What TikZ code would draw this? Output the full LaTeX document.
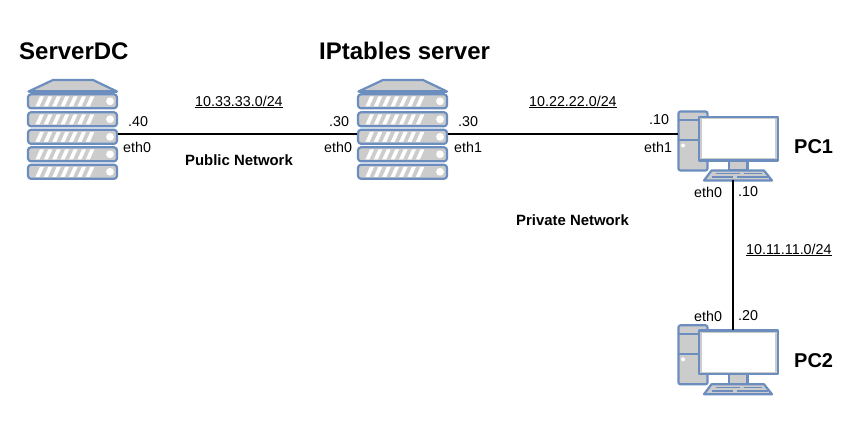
\documentclass[tikz,border=0pt]{standalone}
\usepackage{fontspec}
\setmainfont{Liberation Sans}
\definecolor{devblue}{HTML}{6C8EBF}
\definecolor{devgray}{HTML}{CCCCCC}
\tikzset{
  x=1pt,y=-1pt,
  devpart/.style={draw=devblue,fill=devgray,line width=2.2pt,line join=round},
  link/.style={draw=black,line width=2pt},
  title/.style={font=\fontsize{24}{26}\selectfont\bfseries,inner sep=0pt},
  pcname/.style={font=\fontsize{20}{22}\selectfont\bfseries,inner sep=0pt},
  netname/.style={font=\fontsize{14.9}{16}\selectfont\bfseries,inner sep=0pt},
  lbl/.style={font=\fontsize{14.3}{16}\selectfont,inner sep=0pt},
  subnet/.style={font=\fontsize{14.3}{16}\selectfont,inner sep=0pt},
  server/.pic={
    \draw[devpart] (1.5,12.5) -- (26,1) -- (66,1) -- (90,12.5) -- cycle;
    \foreach \t in {15.3,33.3,50.8,68.3,85.8}{
      \draw[devpart,rounded corners=3pt] (1,\t) rectangle (90,\t+14);
      \foreach \s in {0,...,6}{
        \fill[white] (8.5+\s*8.4,\t+12) -- (12.5+\s*8.4,\t+12) -- (17+\s*8.4,\t+2) -- (13+\s*8.4,\t+2) -- cycle;
      }
      \fill[white] (83,\t+7) circle (3.9);
    }
    \draw[devblue,line width=2.5pt] (1.5,12.5) -- (90,12.5);
    \coordinate (-port) at (45.5,54.7);
    \node[minimum width=91pt,minimum height=100pt,inner sep=0pt] (-box) at (45.5,50) {};
  },
  pc/.pic={
    \draw[devpart,rounded corners=2pt] (1,1) rectangle (30,60);
    \draw[devblue,line width=2pt] (1,10) -- (30,10) (1,30) -- (30,30);
    \fill[white] (5.5,35) circle (2);
    \draw[devpart] (51.5,50) rectangle (70,60);
    \draw[devpart] (34,60) -- (86.5,60) -- (94.5,70) -- (26.5,70) -- cycle;
    \draw[devblue,line width=1.4pt] (38,63) -- (62,63) (66,63) -- (84,63) (34,66.7) -- (55,66.7) (59,66.7) -- (90,66.7);
    \draw[devpart] (21.2,6.2) rectangle (100.5,50);
    \fill[white] (24,8.7) rectangle (97.7,47.2);
    \coordinate (-west) at (0,23.2);
    \coordinate (-south) at (55.5,70);
    \coordinate (-north) at (55.5,6);
    \node[minimum width=101pt,minimum height=70pt,inner sep=0pt] (-box) at (48,35) {};
  }
}
\begin{document}
\begin{tikzpicture}
\useasboundingbox (0,0) rectangle (861,430);
\fill[white] (0,0) rectangle (861,430);
\path pic (pca) at (677.5,110.5) {pc};
\path pic (pcb) at (677.5,324.3) {pc};
\path pic (dc) at (27,79) {server};
\path pic (ipt) at (357,79) {server};
\draw[link] (dc-box.east |- dc-port) -- (ipt-box.west |- ipt-port);
\draw[link] (ipt-box.east |- ipt-port) -- (pca-west);
\draw[link] (pca-south) -- (pcb-north);
\node[title,anchor=west] (t1) at (19,51) {ServerDC};
\node[title,anchor=west] (t2) at (319,51) {IPtables server};
\node[pcname,anchor=west] (t3) at (794,147) {PC1};
\node[pcname,anchor=west] (t4) at (794,361) {PC2};
\node[netname,anchor=west] (n1) at (185,160) {Public Network};
\node[netname,anchor=west] (n2) at (516,220) {Private Network};
\node[subnet,anchor=west] (s1) at (195,102) {\underline{10.33.33.0/24}};
\node[subnet,anchor=west] (s2) at (529,102) {\underline{10.22.22.0/24}};
\node[subnet,anchor=west] (s3) at (746,250) {\underline{10.11.11.0/24}};
\node[lbl,anchor=west] (a1) at (128,122) {.40};
\node[lbl,anchor=west] (a2) at (123,147) {eth0};
\node[lbl,anchor=west] (a3) at (329,122) {.30};
\node[lbl,anchor=west] (a4) at (324,147) {eth0};
\node[lbl,anchor=west] (a5) at (458,122) {.30};
\node[lbl,anchor=west] (a6) at (454,147) {eth1};
\node[lbl,anchor=west] (a7) at (649,120) {.10};
\node[lbl,anchor=west] (a8) at (644,147) {eth1};
\node[lbl,anchor=west] (a9) at (694,192) {eth0};
\node[lbl,anchor=west] (a10) at (738,192) {.10};
\node[lbl,anchor=west] (a11) at (694,316) {eth0};
\node[lbl,anchor=west] (a12) at (738,316) {.20};
\end{tikzpicture}
\end{document}
